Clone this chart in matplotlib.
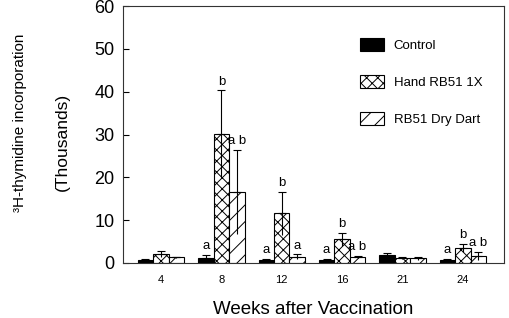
import matplotlib
matplotlib.use("Agg")
import matplotlib.pyplot as plt
import numpy as np
from matplotlib.patches import Patch

plt.rcParams['font.family'] = ['Liberation Sans', 'DejaVu Sans']
plt.rcParams['hatch.linewidth'] = 0.7

weeks = ["4", "8", "12", "16", "21", "24"]
series_names = ["Control", "Hand RB51 1X", "RB51 Dry Dart"]
control = [0.8, 1.2, 0.8, 0.8, 1.9, 0.8]
control_err = [0.2, 0.7, 0.2, 0.2, 0.5, 0.2]
hand = [2.0, 30.2, 11.6, 5.5, 1.1, 3.5]
hand_err = [0.7, 10.1, 5.0, 1.5, 0.2, 1.0]
dart = [1.3, 16.6, 1.5, 1.4, 1.1, 1.6]
dart_err = [0.2, 9.8, 0.5, 0.3, 0.3, 1.0]
control_letters = ["", "a", "a", "a", "", "a"]
hand_letters = ["", "b", "b", "b", "", "b"]
dart_letters = ["", "a b", "a", "a b", "", "a b"]

fig = plt.figure(figsize=(5.1, 3.18), dpi=100)
ax = fig.add_axes([0.241, 0.173, 0.747, 0.808])

x = np.arange(len(weeks))
w = 0.256
styles = [dict(color='black', edgecolor='black', hatch=None),
          dict(color='white', edgecolor='black', hatch='xxx'),
          dict(color='white', edgecolor='black', hatch='//')]
data = [(control, control_err, control_letters),
        (hand, hand_err, hand_letters),
        (dart, dart_err, dart_letters)]

for i, ((vals, errs, letters), st) in enumerate(zip(data, styles)):
    pos = x + (i - 1) * w
    ax.bar(pos, vals, width=w, color=st['color'], edgecolor=st['edgecolor'],
           hatch=st['hatch'], linewidth=0.8, zorder=2, label=series_names[i])
    zeros = np.zeros(len(vals))
    ax.errorbar(pos, vals, yerr=[errs, zeros], fmt='none', ecolor='black',
                elinewidth=0.8, capsize=0, zorder=3)
    ax.errorbar(pos, vals, yerr=[zeros, errs], fmt='none', ecolor='black',
                elinewidth=0.8, capsize=3, capthick=0.8, zorder=3)
    for p, v, e, t in zip(pos, vals, errs, letters):
        if t:
            ax.text(p, v + e + 0.6, t, ha='center', va='bottom', fontsize=9.5)

ax.set_xlim(-0.63, 5.68)
ax.set_ylim(0, 60)
ax.set_yticks(range(0, 61, 10))
ax.set_xticks(x)
ax.set_xticklabels(weeks, fontsize=8)
ax.tick_params(axis='x', length=0, pad=9)
ax.tick_params(axis='y', direction='in', length=4, labelsize=13, pad=6)
for s in ax.spines.values():
    s.set_linewidth(0.8)
    s.set_color('#333333')

ax.set_xlabel("Weeks after Vaccination", fontsize=13.5, labelpad=11)
fig.text(0.04, 0.615, "³H-thymidine incorporation", rotation=90,
         ha='center', va='center', fontsize=11)
fig.text(0.122, 0.555, "(Thousands)", rotation=90, ha='center', va='center',
         fontsize=12.5)

handles = [Patch(facecolor=st['color'], edgecolor='black', hatch=st['hatch'],
                 linewidth=0.8) for st in styles]
ax.legend(handles, series_names, loc='upper left', bbox_to_anchor=(0.622, 0.875),
          frameon=False, fontsize=9.5, borderpad=0, borderaxespad=0,
          handlelength=1.85, handleheight=1.1, handletextpad=0.7, labelspacing=1.75)

fig.savefig("out.png", dpi=100)
